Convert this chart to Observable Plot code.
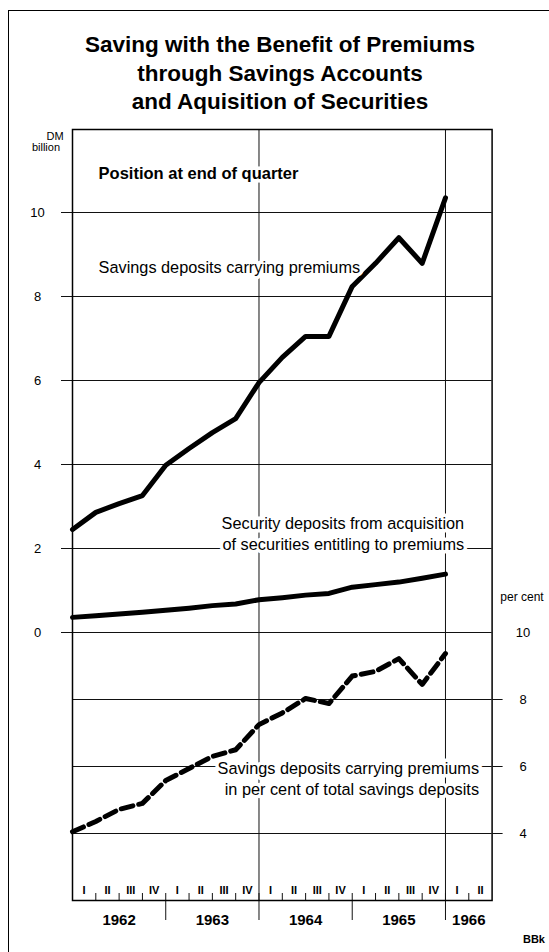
<!DOCTYPE html>
<html>
<head>
<meta charset="utf-8">
<script src="https://cdn.jsdelivr.net/npm/d3@7"></script>
<script src="https://cdn.jsdelivr.net/npm/@observablehq/plot@0.6"></script>
<style>
  html, body { margin: 0; padding: 0; background: #fff; }
  #page { position: relative; width: 549px; height: 952px; overflow: hidden; font-family: "Liberation Sans", Arial, sans-serif; color: #000; background: #fff; }
  #border { position: absolute; left: 8px; top: 10px; width: 560px; height: 960px; border-left: 1.5px solid #000; border-top: 1.5px solid #000; }
  #chart { position: absolute; left: 0; top: 0; }
  #title { position: absolute; left: 10px; width: 540px; top: 31px; text-align: center; font-weight: bold; font-size: 22.5px; line-height: 28.5px; }
  .note { position: absolute; font-size: 11px; line-height: 11px; text-align: center; }
</style>
</head>
<body>
<div id="page">
  <div id="border"></div>
  <div id="chart"></div>
  <div id="title">Saving with the Benefit of Premiums<br>through Savings Accounts<br>and Aquisition of Securities</div>
  <div class="note" style="left:40px; top:131px; width:30px;">DM</div>
  <div class="note" style="left:24px; top:142px; width:44px;">billion</div>
  <div class="note" style="left:497px; top:592px; width:50px; font-size:12px;">per cent</div>
  <div class="note" style="left:520px; top:934px; width:28px; font-weight:bold;">BBk</div>
</div>
<script>
// ---- data (position at end of quarter) ----
const periods = ["IV 1961","I 1962","II 1962","III 1962","IV 1962","I 1963","II 1963","III 1963","IV 1963",
                 "I 1964","II 1964","III 1964","IV 1964","I 1965","II 1965","III 1965","IV 1965"];
// Savings deposits carrying premiums, DM billion
const savingsDeposits = [2.45, 2.86, 3.07, 3.26, 3.98, 4.38, 4.76, 5.09, 5.95, 6.55, 7.05, 7.05, 8.24, 8.79, 9.40, 8.79, 10.35];
// Security deposits from acquisition of securities entitling to premiums, DM billion
const securityDeposits = [0.36, 0.40, 0.44, 0.48, 0.53, 0.58, 0.64, 0.68, 0.78, 0.83, 0.89, 0.93, 1.08, 1.14, 1.20, 1.29, 1.39];
// Savings deposits carrying premiums in per cent of total savings deposits
const savingsShare = [4.05, 4.36, 4.72, 4.90, 5.58, 5.94, 6.30, 6.50, 7.25, 7.60, 8.03, 7.88, 8.70, 8.84, 9.22, 8.45, 9.37];

const romanNumerals = ["I", "II", "III", "IV"];
const years = [1962, 1963, 1964, 1965];
const lastYear = 1966;
const lastYearQuarters = 2;
const leftTicks = [0, 2, 4, 6, 8, 10];
const rightTicks = [10, 8, 6, 4];

// ---- derived tables ----
const toX = p => { const [q, y] = p.split(" "); return +y + (romanNumerals.indexOf(q) + 1) / 4; };
// the per-cent scale shares the frame: 10 % sits on 0 DM
const pctRatio = 33.5 / 42;
const pctToV = p => (p - 10) * pctRatio;

const rows = periods.map((p, i) => ({
  x: toX(p), savings: savingsDeposits[i], security: securityDeposits[i], share: pctToV(savingsShare[i])
}));

const allYears = [...years, lastYear];
const quarterCells = [];
allYears.forEach(y => {
  const n = y === lastYear ? lastYearQuarters : 4;
  for (let q = 0; q < n; q++) quarterCells.push({ x: y + (q + 0.5) / 4, label: romanNumerals[q], start: y + q / 4 });
});
const xStart = allYears[0], xEnd = lastYear + lastYearQuarters / 4;
const quarterBounds = quarterCells.map(d => d.start).filter(v => v > xStart);
const yearBounds = allYears.filter(y => y > xStart);
const yearLabels = allYears.map(y => ({ x: y + (y === lastYear ? lastYearQuarters / 8 : 0.5), label: String(y) }));

const headLabel = [{ text: "Position at end of quarter", x: 1962.28, y: 10.93 }];
const leftLabels = [{ text: "Savings deposits carrying premiums", x: 1962.28, y: 8.69 }];
const rightLabels = [
  { text: "Security deposits from acquisition\nof securities entitling to premiums", x: 1966.2, y: 2.37 },
  { text: "Savings deposits carrying premiums\nin per cent of total savings deposits", x: 1966.36, y: -3.46 }
];

const ink = "#111";
const grid = { stroke: ink, strokeOpacity: 1, strokeWidth: 1 };
const halo = { fill: "#000", stroke: "white", strokeWidth: 7 };

const chart = Plot.plot({
  width: 549,
  height: 952,
  marginLeft: 72,
  marginRight: 57.4,
  marginTop: 129,
  marginBottom: 52,
  x: { domain: [xStart, xEnd] },
  y: { domain: [(632 - 900) / 42, (632 - 129) / 42] },
  style: { fontFamily: "'Liberation Sans', Arial, sans-serif", fontSize: "13px", color: "#000", background: "transparent" },
  marks: [
    Plot.gridY(leftTicks, grid),
    Plot.gridY(rightTicks.filter(d => d !== 10).map(pctToV), grid),
    Plot.gridX(yearBounds.filter(y => y % 2 === 0), grid),
    Plot.axisY({ anchor: "left", ticks: leftTicks, tickSize: 11, tickPadding: 24, textAnchor: "middle", fontSize: 13, label: null, stroke: ink }),
    Plot.axisY({ anchor: "right", ticks: rightTicks.filter(d => d !== 10).map(pctToV), tickSize: 10, tickFormat: () => "", label: null, stroke: ink }),
    Plot.axisY({ anchor: "right", ticks: rightTicks.map(pctToV), tickSize: 0, tickPadding: 31, textAnchor: "middle", fontSize: 13, label: null,
                 tickFormat: d => String(Math.round(d / pctRatio + 10)) }),
    Plot.axisX({ anchor: "bottom", ticks: quarterBounds, tickSize: 7, dy: -7, tickFormat: () => "", label: null, stroke: ink }),
    Plot.axisX({ anchor: "bottom", ticks: yearBounds, tickSize: 20, tickFormat: () => "", label: null, stroke: ink }),
    Plot.text(quarterCells, { x: "x", text: "label", frameAnchor: "bottom", lineAnchor: "middle", dy: -10, fontSize: 11, fontWeight: "bold" }),
    Plot.text(yearLabels, { x: "x", text: "label", frameAnchor: "bottom", lineAnchor: "middle", dy: 20, fontSize: 15, fontWeight: "bold" }),
    Plot.line(rows, { x: "x", y: "savings", stroke: "#000", strokeWidth: 5, strokeLinejoin: "round" }),
    Plot.line(rows, { x: "x", y: "security", stroke: "#000", strokeWidth: 5, strokeLinejoin: "round" }),
    Plot.line(rows, { x: "x", y: "share", stroke: "#000", strokeWidth: 5, strokeDasharray: "12,6", strokeLinejoin: "round" }),
    Plot.text(headLabel, { x: "x", y: "y", text: "text", textAnchor: "start", fontSize: 16.5, fontWeight: "bold", ...halo }),
    Plot.text(leftLabels, { x: "x", y: "y", text: "text", textAnchor: "start", fontSize: 16.3, ...halo }),
    Plot.text(rightLabels, { x: "x", y: "y", text: "text", textAnchor: "end", fontSize: 16.3, lineHeight: 1.25, ...halo }),
    Plot.frame({ stroke: "#000", strokeWidth: 1.5 })
  ]
});
document.getElementById("chart").appendChild(chart);
</script>
</body>
</html>
